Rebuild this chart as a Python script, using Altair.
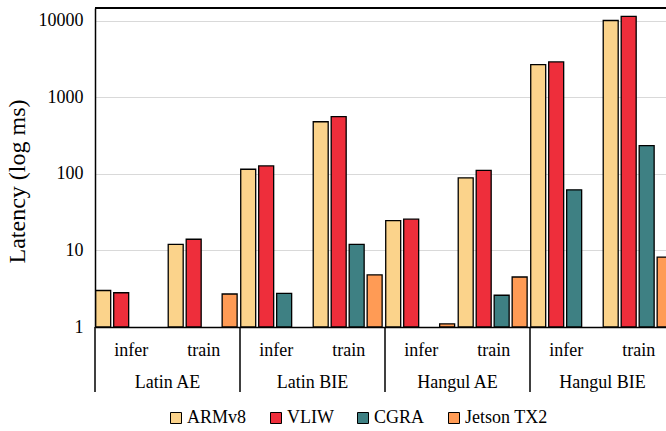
import altair as alt
import pandas as pd

# Benchmarks (major groups) and phases (minor groups) along the x axis
groups = ["Latin AE", "Latin BIE", "Hangul AE", "Hangul BIE"]
phases = ["infer", "train"]
series = ["ARMv8", "VLIW", "CGRA", "Jetson TX2"]
colors = ["#FBD38B", "#EE2E3B", "#3E8083", "#FF9B55"]

# Latency in ms, ordered: LAE infer, LAE train, LBIE infer, LBIE train,
# HAE infer, HAE train, HBIE infer, HBIE train (None = below 1 ms)
armv8 = [3.0, 12, 115, 480, 24.5, 89, 2670, 10100]
vliw = [2.8, 14, 127, 560, 25.6, 111, 2900, 11400]
cgra = [None, None, 2.75, 12, None, 2.6, 62, 234]
jetson = [None, 2.7, None, 4.8, 1.1, 4.5, None, 8.2]

cats = [f"{g}|{p}" for g in groups for p in phases]
rows = []
for name, vals in zip(series, [armv8, vliw, cgra, jetson]):
    for c, v in zip(cats, vals):
        if v is not None:
            rows.append({"cat": c, "series": name, "value": v})
df = pd.DataFrame(rows)

sep_df = pd.DataFrame({"cat": [f"{g}|infer" for g in groups]})
lab_df = pd.DataFrame({"cat": [f"{g}|train" for g in groups], "group": groups})

FONT = "Liberation Serif, Times New Roman, serif"
W, H = 571, 319
x_scale = alt.Scale(range=[0, 580], paddingInner=0, paddingOuter=0)
x_axis = alt.Axis(
    labelExpr="split(datum.value, '|')[1]", labelAngle=0, ticks=False,
    domainColor="black", domainWidth=1.5, labelFont=FONT, labelFontSize=18,
    labelColor="black", labelPadding=14, grid=False, title=None,
)

bars = alt.Chart(df).mark_bar(clip=True, stroke="black", strokeWidth=1.3).encode(
    x=alt.X("cat:N", sort=cats, scale=x_scale, axis=x_axis, title=None),
    xOffset=alt.XOffset(
        "series:N", sort=series,
        scale=alt.Scale(paddingInner=0.167, paddingOuter=0.1, align=0.2),
    ),
    y=alt.Y(
        "value:Q", stack=None,
        scale=alt.Scale(type="log", domain=[1, 14700]),
        axis=alt.Axis(
            values=[1, 10, 100, 1000, 10000], format="d",
            title="Latency (log ms)", titleFont=FONT, titleFontSize=24,
            titleFontWeight="normal", titleColor="black", titlePadding=9,
            titleY=173,
            labelFont=FONT, labelFontSize=18, labelColor="black",
            labelPadding=12, ticks=False, domainColor="black", domainWidth=1.5,
            gridColor="#D9D9D9", gridWidth=1,
        ),
    ),
    y2=alt.datum(1),
    color=alt.Color(
        "series:N", sort=series,
        scale=alt.Scale(domain=series, range=colors),
        legend=alt.Legend(
            orient="none", legendX=72, legendY=401, direction="horizontal",
            title=None, symbolType="square", symbolSize=121,
            symbolStrokeColor="black", symbolStrokeWidth=1, symbolOpacity=1,
            labelFont=FONT, labelFontSize=18, labelColor="black",
            columnPadding=20, labelOffset=2,
        ),
    ),
)

separators = alt.Chart(sep_df).mark_rule(color="black", strokeWidth=1.5).encode(
    x=alt.X("cat:N", sort=cats, scale=x_scale, axis=x_axis, title=None, bandPosition=0),
    y=alt.value(H),
    y2=alt.value(H + 65),
)

group_labels = alt.Chart(lab_df).mark_text(
    font=FONT, fontSize=18, color="black", baseline="middle", align="center"
).encode(
    x=alt.X("cat:N", sort=cats, scale=x_scale, axis=x_axis, title=None, bandPosition=0),
    y=alt.value(H + 56),
    text="group:N",
)

top_border = alt.Chart(sep_df).mark_rule(color="black", strokeWidth=1.5).encode(
    x=alt.value(0), x2=alt.value(W), y=alt.value(0)
)

chart = alt.layer(bars, separators, group_labels, top_border).properties(
    width=W, height=H,
    autosize=alt.AutoSizeParams(type="none"),
    padding={"left": 95, "top": 8, "right": 0, "bottom": 104},
    background="white",
).configure_view(stroke=None)

chart.save("out.html", embed_options={"renderer": "svg", "actions": False})
